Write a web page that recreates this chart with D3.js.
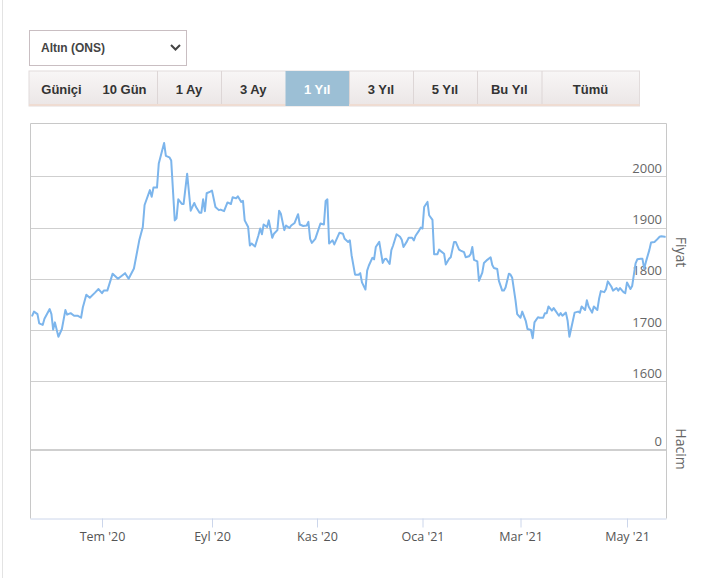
<!DOCTYPE html>
<html>
<head>
<meta charset="utf-8">
<script src="https://cdn.jsdelivr.net/npm/d3@7/dist/d3.min.js"></script>
<style>
  body { margin: 0; background: #fff; }
  svg { display: block; }
</style>
</head>
<body>
<svg width="710" height="578"></svg>
<script>
// Altın (ONS) - 1 yıllık fiyat
const dates = [
  "2020-05-22","2020-05-23","2020-05-25","2020-05-26","2020-05-28","2020-05-29",
  "2020-06-01","2020-06-02","2020-06-03","2020-06-04","2020-06-06","2020-06-08","2020-06-10","2020-06-11",
  "2020-06-13","2020-06-15","2020-06-17","2020-06-19","2020-06-20","2020-06-22","2020-06-24","2020-06-27","2020-06-29",
  "2020-07-01","2020-07-02","2020-07-04","2020-07-07","2020-07-10","2020-07-14","2020-07-16","2020-07-19",
  "2020-07-22","2020-07-24","2020-07-25","2020-07-28","2020-07-29","2020-07-30",
  "2020-08-01","2020-08-02","2020-08-05","2020-08-06","2020-08-08","2020-08-09","2020-08-11","2020-08-12",
  "2020-08-13","2020-08-15","2020-08-16","2020-08-18","2020-08-20","2020-08-22","2020-08-23","2020-08-25",
  "2020-08-26","2020-08-27","2020-08-28","2020-08-29","2020-08-31",
  "2020-09-01","2020-09-03","2020-09-05","2020-09-06","2020-09-08","2020-09-10","2020-09-12","2020-09-13",
  "2020-09-15","2020-09-16","2020-09-18","2020-09-19","2020-09-20","2020-09-22","2020-09-23","2020-09-24",
  "2020-09-26","2020-09-28","2020-09-29","2020-09-30",
  "2020-10-01","2020-10-03","2020-10-04","2020-10-06","2020-10-07","2020-10-09","2020-10-10","2020-10-11",
  "2020-10-13","2020-10-14","2020-10-16","2020-10-17","2020-10-19","2020-10-21","2020-10-22","2020-10-24",
  "2020-10-26","2020-10-27","2020-10-28","2020-10-29","2020-10-31",
  "2020-11-02","2020-11-03","2020-11-05","2020-11-06","2020-11-07","2020-11-08","2020-11-10","2020-11-11",
  "2020-11-14","2020-11-16","2020-11-17","2020-11-19","2020-11-20","2020-11-21","2020-11-23","2020-11-25",
  "2020-11-26","2020-11-27","2020-11-29","2020-11-30",
  "2020-12-01","2020-12-03","2020-12-04","2020-12-05","2020-12-07","2020-12-09","2020-12-10","2020-12-11",
  "2020-12-13","2020-12-14","2020-12-15","2020-12-17","2020-12-19","2020-12-20","2020-12-21","2020-12-23",
  "2020-12-24","2020-12-26","2020-12-27","2020-12-28","2020-12-30","2020-12-31",
  "2021-01-01","2021-01-02","2021-01-04","2021-01-05","2021-01-07","2021-01-08","2021-01-10","2021-01-11",
  "2021-01-12","2021-01-14","2021-01-15","2021-01-17","2021-01-18","2021-01-20","2021-01-21","2021-01-23",
  "2021-01-24","2021-01-26","2021-01-27","2021-01-29","2021-01-30","2021-01-31",
  "2021-02-01","2021-02-03","2021-02-04","2021-02-06","2021-02-07","2021-02-09","2021-02-11","2021-02-12",
  "2021-02-13","2021-02-15","2021-02-16","2021-02-18","2021-02-19","2021-02-20","2021-02-22","2021-02-23",
  "2021-02-24","2021-02-26","2021-02-27",
  "2021-03-01","2021-03-02","2021-03-04","2021-03-05","2021-03-07","2021-03-08","2021-03-09","2021-03-11",
  "2021-03-12","2021-03-14","2021-03-15","2021-03-16","2021-03-17","2021-03-19","2021-03-20","2021-03-21",
  "2021-03-23","2021-03-24","2021-03-25","2021-03-27","2021-03-28","2021-03-29","2021-03-31",
  "2021-04-01","2021-04-03","2021-04-04","2021-04-05","2021-04-07","2021-04-08","2021-04-09","2021-04-11",
  "2021-04-12","2021-04-14","2021-04-15","2021-04-16","2021-04-18","2021-04-19","2021-04-20","2021-04-22",
  "2021-04-23","2021-04-25","2021-04-26","2021-04-27","2021-04-29","2021-04-30",
  "2021-05-01","2021-05-03","2021-05-04","2021-05-06","2021-05-07","2021-05-09","2021-05-10","2021-05-11",
  "2021-05-12","2021-05-14","2021-05-15","2021-05-17","2021-05-18","2021-05-20","2021-05-21","2021-05-23"
];
const prices = [
  1728,1736,1731,1713,1710,1722,
  1741,1731,1701,1715,1687,1702,1739,1730,
  1733,1728,1728,1724,1744,1769,1763,1773,1780,
  1772,1777,1777,1810,1800,1811,1800,1820,
  1875,1901,1944,1973,1960,1978,
  1978,2025,2065,2040,2037,2031,1914,1918,
  1955,1946,1946,2005,1933,1948,1940,1929,
  1929,1955,1932,1967,1970,
  1972,1940,1934,1935,1932,1949,1946,1959,
  1957,1961,1950,1952,1914,1901,1865,1869,
  1863,1885,1898,1887,
  1906,1901,1914,1880,1888,1895,1933,1927,
  1895,1904,1899,1904,1909,1926,1906,1903,
  1904,1911,1878,1870,1878,
  1898,1908,1906,1952,1955,1869,1875,1867,
  1890,1888,1878,1872,1875,1846,1808,1808,
  1811,1793,1779,1816,
  1826,1841,1838,1862,1872,1831,1838,1839,
  1829,1856,1865,1887,1882,1876,1862,1873,
  1880,1880,1875,1884,1894,1900,
  1898,1940,1950,1924,1915,1848,1848,1857,
  1854,1849,1828,1839,1842,1872,1872,1857,
  1855,1852,1842,1844,1848,1862,
  1837,1834,1796,1812,1831,1837,1842,1827,
  1821,1819,1796,1777,1777,1783,1810,1808,
  1802,1758,1731,
  1724,1736,1718,1702,1700,1684,1715,1725,
  1724,1724,1733,1733,1746,1738,1743,1738,
  1728,1733,1728,1734,1718,1687,1718,
  1734,1736,1734,1746,1739,1758,1746,1734,
  1746,1739,1761,1776,1774,1780,1795,1785,
  1777,1782,1777,1782,1774,1772,
  1793,1780,1786,1830,1838,1839,1839,1820,
  1833,1856,1871,1872,1875,1882,1883,1882
];
const volumes = [];  // hacim verisi yok

const priceTicks = [1600, 1700, 1800, 1900, 2000];
const volumeTicks = [0];
const tickDates = ["2020-07-01","2020-09-01","2020-11-01","2021-01-01","2021-03-01","2021-05-01"];
const tickLabels = ["Tem '20","Eyl '20","Kas '20","Oca '21","Mar '21","May '21"];
const rangeStart = "2020-05-21", rangeEnd = "2021-05-24";

const instrument = "Altın (ONS)";
const activeButton = "1 Yıl";

const svg = d3.select("svg");
const W = +svg.attr("width"), H = +svg.attr("height");
const parse = d3.timeParse("%Y-%m-%d");
const data = dates.map((d, i) => ({ date: parse(d), price: prices[i] }));

// page edge
svg.append("line").attr("x1", 2.5).attr("x2", 2.5).attr("y1", 0).attr("y2", H)
  .attr("stroke", "#e3e3e3");

// ---- selector ----
const sel = svg.append("g");
sel.append("rect").attr("x", 29.5).attr("y", 30.5).attr("width", 157).attr("height", 35)
  .attr("fill", "#fff").attr("stroke", "#c9bec2");
sel.append("text").attr("x", 41).attr("y", 51.5).text(instrument)
  .attr("font-family", "Liberation Sans, Arial, sans-serif").attr("font-size", 12)
  .attr("font-weight", "bold").attr("fill", "#444");
sel.append("path").attr("d", "M171,45 L175.5,49.5 L180,45")
  .attr("fill", "none").attr("stroke", "#444").attr("stroke-width", 2);

// ---- range buttons ----
const defs = svg.append("defs");
const grad = defs.append("linearGradient").attr("id", "btn").attr("x1", 0).attr("x2", 0).attr("y1", 0).attr("y2", 1);
grad.append("stop").attr("offset", 0).attr("stop-color", "#f8f6f6");
grad.append("stop").attr("offset", 1).attr("stop-color", "#ebe6e6");

// button cells: [left, right] edges; Güniçi and 10 Gün share the first cell
const cells = [[29, 157, ["Güniçi", "10 Gün"]], [157, 221, ["1 Ay"]], [221, 285.5, ["3 Ay"]],
  [285.5, 349, ["1 Yıl"]], [349, 413, ["3 Yıl"]], [413, 477, ["5 Yıl"]],
  [477, 541.5, ["Bu Yıl"]], [541.5, 639.5, ["Tümü"]]];
const bar = svg.append("g");
bar.append("rect").attr("x", 29).attr("y", 71).attr("width", 610.5).attr("height", 35)
  .attr("fill", "url(#btn)").attr("stroke", "#e2dcdc");
bar.append("rect").attr("x", 29).attr("y", 104).attr("width", 610.5).attr("height", 2)
  .attr("fill", "#efdcd2");
cells.forEach(([l, r, labels]) => {
  const active = labels.includes(activeButton);
  if (active) {
    bar.append("rect").attr("x", l).attr("y", 71).attr("width", r - l).attr("height", 35)
      .attr("fill", "#9cbfd5");
  } else if (l > 29) {
    bar.append("line").attr("x1", l + 0.5).attr("x2", l + 0.5).attr("y1", 71).attr("y2", 104)
      .attr("stroke", "#ddd6d6");
  }
  const cx = labels.length === 1 ? [(l + r) / 2] : [61.5, 124.5];
  labels.forEach((t, i) => {
    bar.append("text").attr("x", cx[i]).attr("y", 93.5).attr("text-anchor", "middle").text(t)
      .attr("font-family", "Liberation Sans, Arial, sans-serif").attr("font-size", 13)
      .attr("font-weight", "bold").attr("fill", active ? "#fff" : "#333");
  });
});

// ---- chart ----
const plotL = 30.5, plotR = 666.5, plotT = 123.5, plotB = 518.5;

// ordinal-like time axis: calendar anchors at the month ticks
const xAnchors = [plotL, 102, 212, 317, 422.5, 520.5, 627, plotR];
const x = d3.scaleTime()
  .domain([rangeStart, ...tickDates, rangeEnd].map(parse))
  .range(xAnchors);

const y = d3.scaleLinear().domain([1600, 2000]).range([381.3, 176.3]);
const yVol = d3.scaleLinear().domain([0, 1]).range([450, 395]);

const font = "Open Sans, DejaVu Sans, sans-serif";

// gridlines
svg.append("g").selectAll("line").data(priceTicks).join("line")
  .attr("x1", plotL).attr("x2", plotR)
  .attr("y1", d => Math.round(y(d)) + 0.5).attr("y2", d => Math.round(y(d)) + 0.5)
  .attr("stroke", "#cfcfcf").attr("stroke-width", 1.2);
svg.append("g").selectAll("line").data(volumeTicks).join("line")
  .attr("x1", plotL).attr("x2", plotR)
  .attr("y1", d => yVol(d)).attr("y2", d => yVol(d))
  .attr("stroke", "#cfcfcf").attr("stroke-width", 2);

// plot border
svg.append("path")
  .attr("d", `M${plotL},${plotB} V${plotT} H${plotR} V${plotB}`)
  .attr("fill", "none").attr("stroke", "#c8c8c8");

// y labels (inside, right aligned above gridline)
svg.append("g").selectAll("text").data(priceTicks).join("text")
  .attr("x", 662).attr("y", d => y(d) - 3.5).attr("text-anchor", "end").text(d => d)
  .attr("font-family", font).attr("font-size", 13).attr("fill", "#666");
svg.append("g").selectAll("text").data(volumeTicks).join("text")
  .attr("x", 662).attr("y", d => yVol(d) - 4).attr("text-anchor", "end").text(d => d)
  .attr("font-family", font).attr("font-size", 13).attr("fill", "#666");

// axis titles
[["Fiyat", 252], ["Hacim", 449]].forEach(([t, cy]) => {
  svg.append("text").attr("transform", `translate(676,${cy}) rotate(90)`)
    .attr("text-anchor", "middle").text(t)
    .attr("font-family", font).attr("font-size", 14).attr("fill", "#666");
});

// x axis
const xAxis = d3.axisBottom(x)
  .tickValues(tickDates.map(parse))
  .tickFormat((d, i) => tickLabels[i])
  .tickSize(9).tickSizeOuter(0);
const gx = svg.append("g").attr("transform", `translate(0,${plotB})`).call(xAxis);
gx.select(".domain").attr("d", `M${plotL},0.5H${plotR}`).attr("stroke", "#ccd6eb");
gx.selectAll(".tick line").attr("stroke", "#ccd6eb");
gx.selectAll(".tick text").attr("dy", 0).attr("y", 22.5)
  .attr("font-family", font).attr("font-size", 12.5).attr("fill", "#555");

// price line
const line = d3.line().x(d => x(d.date)).y(d => y(d.price)).curve(d3.curveLinear);
svg.append("path").datum(data)
  .attr("d", line)
  .attr("fill", "none").attr("stroke", "#7cb5ec").attr("stroke-width", 2)
  .attr("stroke-linejoin", "round").attr("stroke-linecap", "round");
</script>
</body>
</html>
